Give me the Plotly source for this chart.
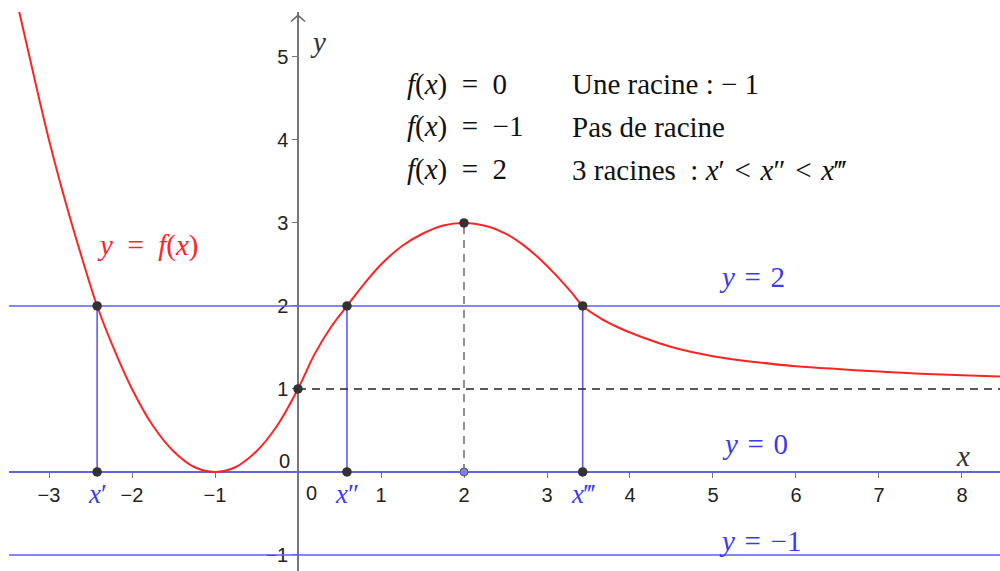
import plotly.graph_objects as go

# curve y = f(x)
curve_x = [-3.36, -3.2, -3.0, -2.8, -2.6, -2.42, -2.2, -2.0, -1.75, -1.5, -1.25, -1.0,
           -0.75, -0.5, -0.25, 0.0, 0.2, 0.4, 0.59, 0.8, 1.0, 1.25, 1.5, 1.75, 2.0,
           2.3, 2.5, 2.7, 2.9, 3.1, 3.3, 3.43, 3.64, 3.84, 4.0, 4.5, 5.0, 5.5, 6.0,
           6.5, 7.0, 7.5, 8.0, 8.46]
curve_y = [5.55, 4.85, 4.0, 3.25, 2.57, 2.0, 1.44, 1.0, 0.56, 0.25, 0.06, 0.0,
           0.06, 0.25, 0.56, 1.0, 1.42, 1.75, 2.0, 2.27, 2.5, 2.72, 2.87, 2.97, 3.0,
           2.955, 2.873, 2.746, 2.579, 2.381, 2.157, 2.0, 1.855, 1.75, 1.68, 1.505, 1.395,
           1.325, 1.275, 1.24, 1.21, 1.185, 1.165, 1.15]

# solutions of f(x) = 2
roots = [-2.42, 0.59, 3.43]
root_labels = ["<i>x</i>′", "<i>x</i>″", "<i>x</i>‴"]

# horizontal lines y = k
levels = [2, 0, -1]
level_labels = ["<i>y</i> = 2", "<i>y</i> = 0", "<i>y</i> = −1"]
level_label_x = [5.05, 5.08, 5.05]
level_label_y = [2.35, 0.34, -0.83]

# maximum
x_max_pt, y_max_pt = 2, 3
# f(0)
y_at_zero = 1

x_ticks = [-3, -2, -1, 1, 2, 3, 4, 5, 6, 7, 8]
y_ticks = [-1, 1, 2, 3, 4, 5]

rows_left = ["<i>f</i>(<i>x</i>) = 0", "<i>f</i>(<i>x</i>) = −1", "<i>f</i>(<i>x</i>) = 2"]
rows_right = ["Une racine : − 1", "Pas de racine",
              "3 racines  : <i>x</i>′ &lt; <i>x</i>″ &lt; <i>x</i>‴"]
rows_y = [4.67, 4.16, 3.64]

x_min, x_max = -3.482, 8.458
y_min, y_max = -1.193, 5.542

BLUE = "#5c5cff"
BLUE_TXT = "#3a3af2"
RED = "#ff2424"
DOT = "#333333"
SERIF = "Liberation Serif"


def math(s, sp="\u2004"):
    # a bit wider than a normal space around relations, as in the LaTeX labels
    return s.replace(" = ", sp + "=" + sp).replace(" &lt; ", sp + "&lt;" + sp)


fig = go.Figure()

# horizontal lines y = 2, 0, -1
for k in levels:
    fig.add_trace(go.Scatter(x=[x_min, x_max], y=[k, k], mode="lines",
                             line=dict(color=BLUE, width=1.6), hoverinfo="skip"))

# vertical segments from the roots down to the x axis
for r in roots:
    fig.add_trace(go.Scatter(x=[r, r], y=[0, 2], mode="lines",
                             line=dict(color=BLUE, width=1.6), hoverinfo="skip"))

# dashed helper lines
fig.add_trace(go.Scatter(x=[0, x_max], y=[y_at_zero, y_at_zero], mode="lines",
                         line=dict(color="#222222", width=1.3, dash="8px,6px")))
fig.add_trace(go.Scatter(x=[x_max_pt, x_max_pt], y=[0, y_max_pt], mode="lines",
                         line=dict(color="#555555", width=1.3, dash="8px,6px")))

# the curve
fig.add_trace(go.Scatter(x=curve_x, y=curve_y, mode="lines",
                         line=dict(color=RED, width=2, shape="spline", smoothing=1)))

# points
pts_x = roots + roots + [0, x_max_pt]
pts_y = [2] * len(roots) + [0] * len(roots) + [y_at_zero, y_max_pt]
fig.add_trace(go.Scatter(x=pts_x, y=pts_y, mode="markers",
                         marker=dict(color=DOT, size=9.5)))
fig.add_trace(go.Scatter(x=[x_max_pt], y=[0], mode="markers",
                         marker=dict(color="#8080e8", size=8, line=dict(color="#555577", width=1))))

ann = []
for r, t in zip(roots, root_labels):
    ann.append(dict(x=r, y=0, text=t, showarrow=False, yshift=-22,
                    font=dict(family=SERIF, size=27, color=BLUE_TXT)))
for t, lx, ly in zip(level_labels, level_label_x, level_label_y):
    ann.append(dict(x=lx, y=ly, text=math(t), showarrow=False, xanchor="left",
                    font=dict(family=SERIF, size=29, color=BLUE_TXT)))
for tl, tr, ry in zip(rows_left, rows_right, rows_y):
    ann.append(dict(x=1.29, y=ry, text=math(tl, "\u2002"), showarrow=False, xanchor="left",
                    font=dict(family=SERIF, size=29, color="#111111")))
    ann.append(dict(x=3.28, y=ry, text=math(tr), showarrow=False, xanchor="left",
                    font=dict(family=SERIF, size=29, color="#111111")))
# curve label and axis names
ann.append(dict(x=-2.45, y=2.73, text=math("<i>y</i> = <i>f</i>(<i>x</i>)", "\u2002"),
                showarrow=False, xanchor="left", font=dict(family=SERIF, size=29, color=RED)))
ann.append(dict(x=8.01, y=0.19, text="<i>x</i>", showarrow=False,
                font=dict(family=SERIF, size=29, color="#333333")))
ann.append(dict(x=0.24, y=5.18, text="<i>y</i>", showarrow=False,
                font=dict(family=SERIF, size=29, color="#333333")))
# the two zeros at the origin
ann.append(dict(x=0, y=0, text="0", showarrow=False, xshift=13, yshift=-21,
                font=dict(family="Liberation Sans", size=20, color="#222222")))
ann.append(dict(x=0, y=0, text="0", showarrow=False, xshift=-14, yshift=11,
                font=dict(family="Liberation Sans", size=20, color="#222222")))

# arrow head on the y axis
ah_w, ah_h = 0.085, 0.075
fig.add_shape(type="path", xref="x", yref="y",
              path=f"M {-ah_w},{y_max - 0.04 - ah_h} L 0,{y_max - 0.04} L {ah_w},{y_max - 0.04 - ah_h}",
              line=dict(color="#666666", width=1.5))

fig.update_layout(
    width=1000, height=571,
    margin=dict(l=9, r=0, t=12, b=0),
    plot_bgcolor="white", paper_bgcolor="white",
    showlegend=False, annotations=ann,
)
fig.update_xaxes(range=[x_min, x_max], anchor="free", position=(0 - y_min) / (y_max - y_min),
                 showgrid=False, zeroline=False, showline=True, linecolor="#777777", linewidth=1.5,
                 ticks="outside", ticklen=5, tickwidth=1.2, tickcolor="#777777",
                 tickvals=x_ticks, ticktext=[str(v).replace("-", "−") for v in x_ticks],
                 tickfont=dict(family="Liberation Sans", size=20, color="#222222"),
                 layer="below traces")
fig.update_yaxes(range=[y_min, y_max], anchor="free", position=(0 - x_min) / (x_max - x_min),
                 showgrid=False, zeroline=False, showline=True, linecolor="#777777", linewidth=1.5,
                 ticks="outside", ticklen=5, tickwidth=1.2, tickcolor="#777777",
                 tickvals=y_ticks, ticktext=[str(v).replace("-", "−") for v in y_ticks],
                 tickfont=dict(family="Liberation Sans", size=20, color="#222222"),
                 layer="below traces")

fig.write_html("out.html", config={"displayModeBar": False},
               post_script="document.body.style.margin='0';")
